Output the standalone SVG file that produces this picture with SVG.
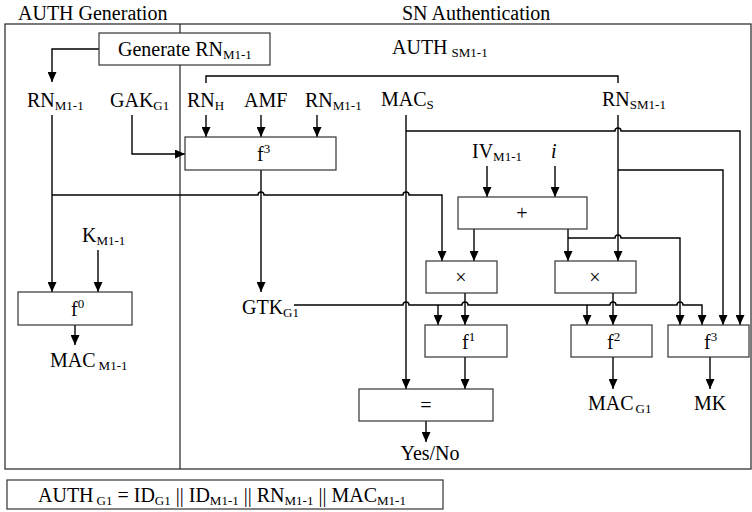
<svg xmlns="http://www.w3.org/2000/svg" width="752" height="512" viewBox="0 0 752 512">
<style>
text{font-family:"Liberation Serif","Times New Roman",serif;font-size:20px;fill:#000}
.s{font-size:13px}
.m{text-anchor:middle}
.box{fill:#fff;stroke:#333;stroke-width:1.2}
.ln{fill:none;stroke:#000;stroke-width:1.4}
.frame{fill:none;stroke:#222;stroke-width:1.2}
</style>
<defs>
<marker id="ah" markerUnits="userSpaceOnUse" markerWidth="10" markerHeight="9" refX="10" refY="4.5" orient="auto"><path d="M0,0 L10,4.5 L0,9 z" fill="#000"/></marker>
</defs>
<rect width="752" height="512" fill="#fff"/>
<g id="frame">
<rect class="frame" x="5" y="24" width="746" height="445"/>
<line class="frame" x1="180" y1="24" x2="180" y2="469"/>
<text x="18" y="20">AUTH Generation</text>
<text x="402" y="20">SN Authentication</text>
</g>
<g id="connectors">
<path class="ln" d="M99,49 H52 V82" marker-end="url(#ah)"/>
<path class="ln" d="M206,83 V76 H618 V83"/>
<path class="ln" d="M206,115 V137" marker-end="url(#ah)"/>
<path class="ln" d="M261,115 V137" marker-end="url(#ah)"/>
<path class="ln" d="M317,115 V137" marker-end="url(#ah)"/>
<path class="ln" d="M132,115 V154 H185" marker-end="url(#ah)"/>
<path class="ln" d="M52,115 V292" marker-end="url(#ah)"/>
<path class="ln" d="M52,195 H258 a3,3 0 0 1 6,0 H403 a3,3 0 0 1 6,0 H442 V261" marker-end="url(#ah)"/>
<path class="ln" d="M98,250 V292" marker-end="url(#ah)"/>
<path class="ln" d="M75,325 V345" marker-end="url(#ah)"/>
<path class="ln" d="M261,170 V292" marker-end="url(#ah)"/>
<path class="ln" d="M294,305 H403 a3,3 0 0 1 6,0 H462 a3,3 0 0 1 6,0 H610 a3,3 0 0 1 6,0 H677 a3,3 0 0 1 6,0 H702 V325" marker-end="url(#ah)"/>
<path class="ln" d="M438,305 V325" marker-end="url(#ah)"/>
<path class="ln" d="M587,305 V325" marker-end="url(#ah)"/>
<path class="ln" d="M406,115 V389" marker-end="url(#ah)"/>
<path class="ln" d="M406,131 H615 a3,3 0 0 1 6,0 H740 V325" marker-end="url(#ah)"/>
<path class="ln" d="M618,115 V261" marker-end="url(#ah)"/>
<path class="ln" d="M618,170 H723 V325" marker-end="url(#ah)"/>
<path class="ln" d="M487,166 V197" marker-end="url(#ah)"/>
<path class="ln" d="M555,166 V197" marker-end="url(#ah)"/>
<path class="ln" d="M474,229 V261" marker-end="url(#ah)"/>
<path class="ln" d="M568,229 V261" marker-end="url(#ah)"/>
<path class="ln" d="M568,238 H615 a3,3 0 0 1 6,0 H680 V325" marker-end="url(#ah)"/>
<path class="ln" d="M465,293 V325" marker-end="url(#ah)"/>
<path class="ln" d="M613,293 V325" marker-end="url(#ah)"/>
<path class="ln" d="M465,357 V389" marker-end="url(#ah)"/>
<path class="ln" d="M613,357 V389" marker-end="url(#ah)"/>
<path class="ln" d="M710,357 V389" marker-end="url(#ah)"/>
<path class="ln" d="M426,421 V442" marker-end="url(#ah)"/>
</g>
<g id="gen-rn"><rect class="box" x="99" y="33" width="171" height="32"/><text x="118" y="56">Generate RN<tspan class="s" dy="3">M1-1</tspan></text></g>
<g id="auth-sm"><text x="392" y="54">AUTH<tspan class="s" dx="4" dy="3">SM1-1</tspan></text></g>
<g id="rn-m-left"><text x="27" y="107">RN<tspan class="s" dy="3">M1-1</tspan></text></g>
<g id="gak"><text x="110" y="107">GAK<tspan class="s" dy="3">G1</tspan></text></g>
<g id="rn-h"><text x="187" y="107">RN<tspan class="s" dy="3">H</tspan></text></g>
<g id="amf"><text x="244" y="107">AMF</text></g>
<g id="rn-m"><text x="305" y="107">RN<tspan class="s" dy="3">M1-1</tspan></text></g>
<g id="mac-s"><text x="381" y="106">MAC<tspan class="s" dy="3">S</tspan></text></g>
<g id="rn-sm"><text x="602" y="106">RN<tspan class="s" dy="3">SM1-1</tspan></text></g>
<g id="f3-top"><rect class="box" x="185" y="137" width="151" height="33"/><text x="257" y="161">f<tspan class="s" dy="-8">3</tspan></text></g>
<g id="k"><text x="82" y="242">K<tspan class="s" dy="3">M1-1</tspan></text></g>
<g id="iv"><text x="472" y="158">IV<tspan class="s" dy="3">M1-1</tspan></text></g>
<g id="i"><text x="551" y="158" font-style="italic">i</text></g>
<g id="plus"><rect class="box" x="458" y="197" width="129" height="32"/><text class="m" x="522" y="220">+</text></g>
<g id="mul1"><rect class="box" x="426" y="261" width="71" height="32"/><text class="m" x="461" y="284">×</text></g>
<g id="mul2"><rect class="box" x="555" y="261" width="81" height="32"/><text class="m" x="595" y="284">×</text></g>
<g id="gtk"><text x="242" y="314">GTK<tspan class="s" dy="3">G1</tspan></text></g>
<g id="f0"><rect class="box" x="18" y="292" width="114" height="33"/><text x="71" y="316">f<tspan class="s" dy="-8">0</tspan></text></g>
<g id="mac-m"><text x="50" y="367">MAC<tspan class="s" dx="3" dy="3">M1-1</tspan></text></g>
<g id="f1"><rect class="box" x="425" y="325" width="82" height="32"/><text x="462" y="349">f<tspan class="s" dy="-8">1</tspan></text></g>
<g id="f2"><rect class="box" x="571" y="325" width="81" height="32"/><text x="607" y="349">f<tspan class="s" dy="-8">2</tspan></text></g>
<g id="f3"><rect class="box" x="668" y="325" width="81" height="32"/><text x="704" y="349">f<tspan class="s" dy="-8">3</tspan></text></g>
<g id="eq"><rect class="box" x="359" y="389" width="134" height="32"/><text class="m" x="426" y="412">=</text></g>
<g id="mac-g"><text x="588" y="410">MAC<tspan class="s" dx="2" dy="3">G1</tspan></text></g>
<g id="mk"><text class="m" x="710" y="410">MK</text></g>
<g id="yesno"><text class="m" x="430" y="460">Yes/No</text></g>
<g id="auth-g1"><rect class="box" x="7" y="480" width="436" height="29"/><text x="38" y="502">AUTH<tspan class="s" dx="3" dy="3">G1</tspan><tspan dy="-3"> = ID</tspan><tspan class="s" dy="3">G1</tspan><tspan dy="-3"> || ID</tspan><tspan class="s" dy="3">M1-1</tspan><tspan dy="-3"> || RN</tspan><tspan class="s" dy="3">M1-1</tspan><tspan dy="-3"> || MAC</tspan><tspan class="s" dy="3">M1-1</tspan></text></g>
</svg>
